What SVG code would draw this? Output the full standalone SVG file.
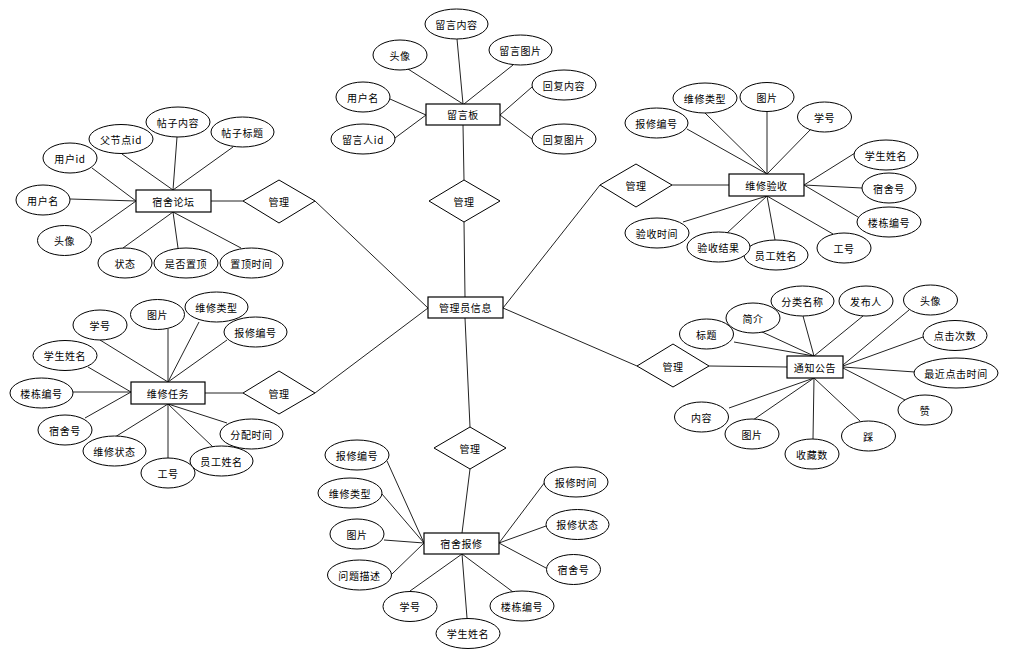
<svg xmlns="http://www.w3.org/2000/svg" width="1012" height="663" viewBox="0 0 1012 663" style="background:#fff">
<style>
text{font-family:"Noto Sans CJK SC","Liberation Sans",sans-serif;font-size:10px;fill:#000;text-anchor:middle;dominant-baseline:central;letter-spacing:0.6px}
ellipse{fill:#fff;stroke:#000;stroke-width:1}
rect.n{fill:#fff;stroke:#000;stroke-width:1.2}
polygon{fill:#fff;stroke:#000;stroke-width:1}
line{stroke:#222;stroke-width:1}
</style>
<g id="connectors">
<line x1="465" y1="297" x2="464" y2="222"/>
<line x1="428" y1="308" x2="315" y2="201"/>
<line x1="428" y1="308" x2="315" y2="393"/>
<line x1="503" y1="308" x2="600" y2="185"/>
<line x1="503" y1="308" x2="637" y2="366"/>
<line x1="465" y1="318" x2="470" y2="427"/>
<line x1="463" y1="125" x2="464" y2="180"/>
<line x1="408" y1="69" x2="463" y2="104"/>
<line x1="457" y1="39" x2="463" y2="104"/>
<line x1="513" y1="65" x2="464" y2="104"/>
<line x1="390" y1="99" x2="426" y2="115"/>
<line x1="395" y1="138" x2="426" y2="115"/>
<line x1="532" y1="87" x2="500" y2="115"/>
<line x1="532" y1="139" x2="500" y2="115"/>
<line x1="211" y1="201" x2="243" y2="201"/>
<line x1="122" y1="154" x2="173" y2="190"/>
<line x1="177" y1="137" x2="173" y2="190"/>
<line x1="233" y1="147" x2="173" y2="190"/>
<line x1="92" y1="168" x2="136" y2="201"/>
<line x1="70" y1="199" x2="136" y2="201"/>
<line x1="91" y1="233" x2="136" y2="201"/>
<line x1="123" y1="248" x2="173" y2="212"/>
<line x1="178" y1="248" x2="173" y2="212"/>
<line x1="241" y1="248" x2="173" y2="212"/>
<line x1="672" y1="185" x2="729" y2="185"/>
<line x1="705" y1="113" x2="767" y2="174"/>
<line x1="767" y1="112" x2="767" y2="174"/>
<line x1="687" y1="129" x2="767" y2="174"/>
<line x1="811" y1="129" x2="767" y2="174"/>
<line x1="855" y1="153" x2="804" y2="185"/>
<line x1="862" y1="188" x2="804" y2="185"/>
<line x1="858" y1="217" x2="804" y2="185"/>
<line x1="833" y1="234" x2="767" y2="196"/>
<line x1="775" y1="240" x2="767" y2="196"/>
<line x1="727" y1="233" x2="767" y2="196"/>
<line x1="683" y1="222" x2="767" y2="196"/>
<line x1="205" y1="393" x2="243" y2="393"/>
<line x1="100" y1="340" x2="168" y2="382"/>
<line x1="168" y1="329" x2="168" y2="382"/>
<line x1="199" y1="322" x2="168" y2="382"/>
<line x1="227" y1="340" x2="168" y2="382"/>
<line x1="88" y1="367" x2="131" y2="392"/>
<line x1="73" y1="392" x2="131" y2="392"/>
<line x1="85" y1="418" x2="131" y2="392"/>
<line x1="115" y1="437" x2="168" y2="404"/>
<line x1="168" y1="458" x2="168" y2="404"/>
<line x1="213" y1="447" x2="168" y2="404"/>
<line x1="227" y1="423" x2="168" y2="404"/>
<line x1="709" y1="366" x2="787" y2="367"/>
<line x1="734" y1="342" x2="814" y2="356"/>
<line x1="760" y1="331" x2="814" y2="356"/>
<line x1="803" y1="316" x2="814" y2="356"/>
<line x1="863" y1="316" x2="814" y2="356"/>
<line x1="909" y1="310" x2="843" y2="365"/>
<line x1="923" y1="337" x2="843" y2="366"/>
<line x1="915" y1="372" x2="843" y2="367"/>
<line x1="905" y1="400" x2="843" y2="368"/>
<line x1="860" y1="421" x2="814" y2="378"/>
<line x1="813" y1="439" x2="814" y2="378"/>
<line x1="753" y1="420" x2="814" y2="378"/>
<line x1="729" y1="408" x2="814" y2="378"/>
<line x1="470" y1="469" x2="462" y2="533"/>
<line x1="387" y1="461" x2="424" y2="543"/>
<line x1="382" y1="494" x2="424" y2="543"/>
<line x1="384" y1="540" x2="424" y2="543"/>
<line x1="392" y1="574" x2="424" y2="543"/>
<line x1="410" y1="591" x2="462" y2="554"/>
<line x1="467" y1="618" x2="462" y2="554"/>
<line x1="513" y1="592" x2="462" y2="554"/>
<line x1="546" y1="568" x2="499" y2="543"/>
<line x1="546" y1="526" x2="499" y2="543"/>
<line x1="545" y1="482" x2="499" y2="543"/>
</g>

<g id="admin"><rect class="n" x="428" y="297" width="75" height="21"/><text x="465.5" y="307.5">管理员信息</text></g>

<g id="board"><rect class="n" x="426" y="104" width="74" height="21"/><text x="463" y="114.5">留言板</text></g>
<g id="rel-board"><polygon points="464,180 500,201 464,222 429,201"/><text x="464" y="201">管理</text></g>
<g id="b-content"><ellipse cx="456.5" cy="24" rx="31.5" ry="15"/><text x="456.5" y="24">留言内容</text></g>
<g id="b-avatar"><ellipse cx="400" cy="55" rx="27" ry="15"/><text x="400" y="55">头像</text></g>
<g id="b-img"><ellipse cx="520.5" cy="50" rx="31.5" ry="15"/><text x="520.5" y="50">留言图片</text></g>
<g id="b-uname"><ellipse cx="363" cy="97" rx="27" ry="15"/><text x="363" y="97">用户名</text></g>
<g id="b-uid"><ellipse cx="363" cy="139" rx="32" ry="15"/><text x="363" y="139">留言人id</text></g>
<g id="b-reply"><ellipse cx="564" cy="85" rx="32" ry="15"/><text x="564" y="85">回复内容</text></g>
<g id="b-replyimg"><ellipse cx="564" cy="139" rx="32" ry="15"/><text x="564" y="139">回复图片</text></g>

<g id="forum"><rect class="n" x="136" y="190" width="75" height="22"/><text x="173.5" y="201">宿舍论坛</text></g>
<g id="rel-forum"><polygon points="279,180 315,201 279,223 243,201"/><text x="279" y="201">管理</text></g>
<g id="f-parent"><ellipse cx="121" cy="139" rx="32" ry="14.5"/><text x="121" y="139">父节点id</text></g>
<g id="f-content"><ellipse cx="178" cy="122" rx="32" ry="15"/><text x="178" y="122">帖子内容</text></g>
<g id="f-title"><ellipse cx="242.5" cy="132" rx="31.5" ry="15"/><text x="242.5" y="132">帖子标题</text></g>
<g id="f-uid"><ellipse cx="70" cy="158" rx="27" ry="15"/><text x="70" y="158">用户id</text></g>
<g id="f-uname"><ellipse cx="43" cy="200" rx="27" ry="15"/><text x="43" y="200">用户名</text></g>
<g id="f-avatar"><ellipse cx="64.5" cy="240.5" rx="27" ry="15"/><text x="64.5" y="240.5">头像</text></g>
<g id="f-status"><ellipse cx="125" cy="263" rx="27" ry="15"/><text x="125" y="263">状态</text></g>
<g id="f-top"><ellipse cx="186" cy="263" rx="32" ry="15"/><text x="186" y="263">是否置顶</text></g>
<g id="f-toptime"><ellipse cx="251.5" cy="263" rx="31.5" ry="15"/><text x="251.5" y="263">置顶时间</text></g>

<g id="accept"><rect class="n" x="729" y="174" width="75" height="22"/><text x="766.5" y="185">维修验收</text></g>
<g id="rel-accept"><polygon points="636,164 672,185 636,207 600,185"/><text x="636" y="185">管理</text></g>
<g id="a-type"><ellipse cx="705" cy="98" rx="32" ry="15"/><text x="705" y="98">维修类型</text></g>
<g id="a-img"><ellipse cx="767" cy="97" rx="27" ry="14.5"/><text x="767" y="97">图片</text></g>
<g id="a-no"><ellipse cx="656.5" cy="123" rx="31.5" ry="15"/><text x="656.5" y="123">报修编号</text></g>
<g id="a-sid"><ellipse cx="824.5" cy="117" rx="27" ry="15"/><text x="824.5" y="117">学号</text></g>
<g id="a-sname"><ellipse cx="886" cy="155" rx="32" ry="15"/><text x="886" y="155">学生姓名</text></g>
<g id="a-room"><ellipse cx="889" cy="188" rx="27" ry="15"/><text x="889" y="188">宿舍号</text></g>
<g id="a-bld"><ellipse cx="889" cy="222" rx="32" ry="15"/><text x="889" y="222">楼栋编号</text></g>
<g id="a-wid"><ellipse cx="844" cy="248" rx="27" ry="15"/><text x="844" y="248">工号</text></g>
<g id="a-wname"><ellipse cx="776" cy="255" rx="32" ry="15"/><text x="776" y="255">员工姓名</text></g>
<g id="a-result"><ellipse cx="718.5" cy="247" rx="31.5" ry="15"/><text x="718.5" y="247">验收结果</text></g>
<g id="a-time"><ellipse cx="657" cy="233" rx="32" ry="15"/><text x="657" y="233">验收时间</text></g>

<g id="task"><rect class="n" x="131" y="382" width="74" height="22"/><text x="168" y="393">维修任务</text></g>
<g id="rel-task"><polygon points="279,371 315,393 279,414 243,393"/><text x="279" y="393">管理</text></g>
<g id="t-sid"><ellipse cx="100" cy="325" rx="27" ry="15"/><text x="100" y="325">学号</text></g>
<g id="t-img"><ellipse cx="157.5" cy="314.5" rx="27" ry="15"/><text x="157.5" y="314.5">图片</text></g>
<g id="t-type"><ellipse cx="216.5" cy="307" rx="31.5" ry="15"/><text x="216.5" y="307">维修类型</text></g>
<g id="t-no"><ellipse cx="255.5" cy="332" rx="31.5" ry="15"/><text x="255.5" y="332">报修编号</text></g>
<g id="t-sname"><ellipse cx="65" cy="355.5" rx="32" ry="15"/><text x="65" y="355.5">学生姓名</text></g>
<g id="t-bld"><ellipse cx="41.5" cy="393" rx="31.5" ry="15"/><text x="41.5" y="393">楼栋编号</text></g>
<g id="t-room"><ellipse cx="65" cy="430" rx="27" ry="15"/><text x="65" y="430">宿舍号</text></g>
<g id="t-status"><ellipse cx="114.5" cy="451" rx="31.5" ry="15"/><text x="114.5" y="451">维修状态</text></g>
<g id="t-wid"><ellipse cx="168" cy="473" rx="27" ry="15"/><text x="168" y="473">工号</text></g>
<g id="t-wname"><ellipse cx="221.5" cy="461" rx="31.5" ry="15"/><text x="221.5" y="461">员工姓名</text></g>
<g id="t-time"><ellipse cx="251.5" cy="434" rx="31.5" ry="15"/><text x="251.5" y="434">分配时间</text></g>

<g id="notice"><rect class="n" x="787" y="356" width="56" height="22"/><text x="815" y="367">通知公告</text></g>
<g id="rel-notice"><polygon points="673,344 709,366 673,387 637,366"/><text x="673" y="366">管理</text></g>
<g id="n-title"><ellipse cx="706.5" cy="334" rx="27" ry="15"/><text x="706.5" y="334">标题</text></g>
<g id="n-intro"><ellipse cx="753" cy="318" rx="27" ry="15"/><text x="753" y="318">简介</text></g>
<g id="n-cat"><ellipse cx="802.5" cy="301" rx="31.5" ry="15"/><text x="802.5" y="301">分类名称</text></g>
<g id="n-pub"><ellipse cx="866" cy="301" rx="27" ry="15"/><text x="866" y="301">发布人</text></g>
<g id="n-avatar"><ellipse cx="930.5" cy="300" rx="27" ry="15"/><text x="930.5" y="300">头像</text></g>
<g id="n-clicks"><ellipse cx="955" cy="335.5" rx="32" ry="15"/><text x="955" y="335.5">点击次数</text></g>
<g id="n-last"><ellipse cx="956" cy="373" rx="42" ry="15"/><text x="956" y="373">最近点击时间</text></g>
<g id="n-up"><ellipse cx="925" cy="410" rx="27" ry="15"/><text x="925" y="410">赞</text></g>
<g id="n-down"><ellipse cx="868.5" cy="436" rx="27" ry="15"/><text x="868.5" y="436">踩</text></g>
<g id="n-fav"><ellipse cx="812" cy="454" rx="27" ry="15"/><text x="812" y="454">收藏数</text></g>
<g id="n-img"><ellipse cx="752" cy="434" rx="27" ry="15"/><text x="752" y="434">图片</text></g>
<g id="n-content"><ellipse cx="701.5" cy="417" rx="27" ry="15"/><text x="701.5" y="417">内容</text></g>

<g id="repair"><rect class="n" x="424" y="533" width="75" height="21"/><text x="461.5" y="543.5">宿舍报修</text></g>
<g id="rel-repair"><polygon points="470,427 506,448 470,469 434,448"/><text x="470" y="448">管理</text></g>
<g id="r-no"><ellipse cx="357" cy="455" rx="32" ry="15"/><text x="357" y="455">报修编号</text></g>
<g id="r-type"><ellipse cx="350" cy="493" rx="32" ry="15"/><text x="350" y="493">维修类型</text></g>
<g id="r-img"><ellipse cx="357" cy="534" rx="27" ry="15"/><text x="357" y="534">图片</text></g>
<g id="r-desc"><ellipse cx="359.5" cy="575" rx="32" ry="15"/><text x="359.5" y="575">问题描述</text></g>
<g id="r-sid"><ellipse cx="410" cy="606.5" rx="27" ry="15"/><text x="410" y="606.5">学号</text></g>
<g id="r-sname"><ellipse cx="468" cy="633.5" rx="32" ry="15"/><text x="468" y="633.5">学生姓名</text></g>
<g id="r-bld"><ellipse cx="522" cy="606" rx="32" ry="15"/><text x="522" y="606">楼栋编号</text></g>
<g id="r-room"><ellipse cx="573.5" cy="569.5" rx="27" ry="15"/><text x="573.5" y="569.5">宿舍号</text></g>
<g id="r-status"><ellipse cx="577.5" cy="524.5" rx="31.5" ry="15"/><text x="577.5" y="524.5">报修状态</text></g>
<g id="r-time"><ellipse cx="576" cy="482" rx="32" ry="15"/><text x="576" y="482">报修时间</text></g>
</svg>
